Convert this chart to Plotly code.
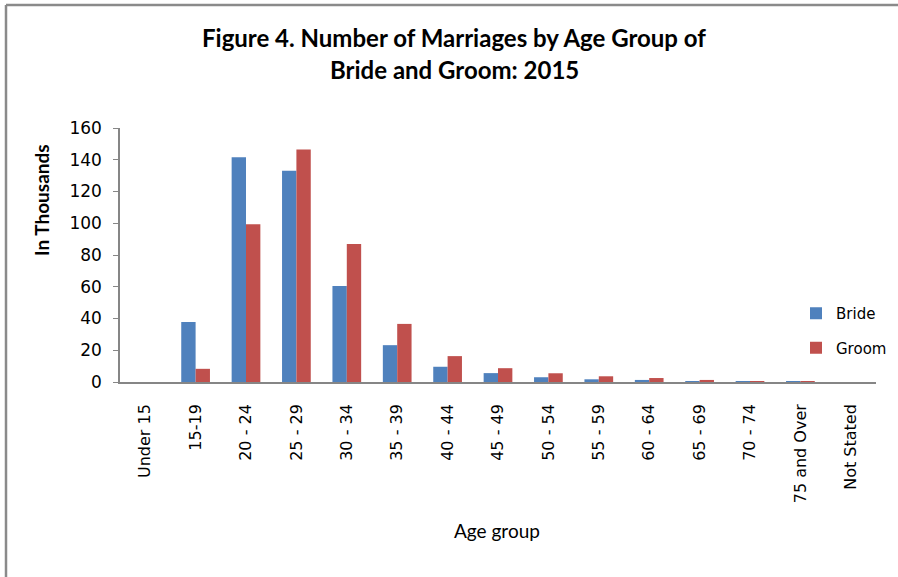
import plotly.graph_objects as go

categories = ["Under 15", "15-19", "20 - 24", "25 - 29", "30 - 34", "35 - 39", "40 - 44",
              "45 - 49", "50 - 54", "55 - 59", "60 - 64", "65 - 69", "70 - 74",
              "75 and Over", "Not Stated"]
bride = [0.0, 37.8, 141.5, 133.0, 60.5, 23.2, 9.6, 5.6, 3.0, 1.7, 1.3, 0.6, 0.2, 0.1, 0.0]
groom = [0.0, 8.3, 99.3, 146.5, 87.0, 36.6, 16.3, 8.7, 5.5, 3.6, 2.5, 1.3, 0.6, 0.5, 0.0]
y_ticks = [0, 20, 40, 60, 80, 100, 120, 140, 160]

W, H = 898, 577
L, R, T, B = 120, 22, 128, 195
pw, ph = W - L - R, H - T - B

def px(xp):
    return (xp - L) / pw

def py(yp):
    return (H - B - yp) / ph

fig = go.Figure()
fig.add_trace(go.Bar(x=categories, y=bride, name="Bride",
                     marker=dict(color="#4F81BD", line=dict(width=0)),
                     legendgroup="a"))
fig.add_trace(go.Bar(x=categories, y=groom, name="Groom",
                     marker=dict(color="#C0504D", line=dict(width=0)),
                     legendgroup="b"))

tick_font = dict(family="DejaVu Sans", size=16, color="#000000")

fig.update_layout(
    width=W, height=H,
    margin=dict(l=L, r=R, t=T, b=B, autoexpand=False),
    paper_bgcolor="white", plot_bgcolor="white",
    barmode="group", bargap=0.43, bargroupgap=0.0,
    showlegend=True,
    legend=dict(x=px(796), y=py(297), xanchor="left", yanchor="top",
                font=dict(family="DejaVu Sans", size=15, color="#000000"),
                traceorder="grouped", tracegroupgap=12, itemwidth=30,
                bgcolor="rgba(0,0,0,0)"),
    xaxis=dict(type="category", tickangle=-90, tickfont=tick_font,
               showline=True, linecolor="#868686", linewidth=1.5,
               ticks="", showgrid=False, ticklabelstandoff=14),
    yaxis=dict(range=[0, 160], tickvals=y_ticks, tickfont=dict(family="DejaVu Sans", size=17, color="#000000"),
               showline=True, linecolor="#868686", linewidth=1.5,
               ticks="outside", ticklen=5, tickcolor="#868686",
               showgrid=False, zeroline=False, ticklabelstandoff=8),
    font=dict(family="DejaVu Sans", color="#000000"),
)

title_font = dict(family="Lato", size=24, color="#000000", weight="bold")
fig.add_annotation(text="Figure 4. Number of Marriages by Age Group of", x=px(454), y=py(38),
                   xref="paper", yref="paper", showarrow=False, font=title_font,
                   xanchor="center", yanchor="middle")
fig.add_annotation(text="Bride and Groom: 2015", x=px(454), y=py(69),
                   xref="paper", yref="paper", showarrow=False, font=title_font,
                   xanchor="center", yanchor="middle")
fig.add_annotation(text="In Thousands", x=px(41), y=py(200), textangle=-90,
                   xref="paper", yref="paper", showarrow=False,
                   font=dict(family="Lato", size=19, color="#000000", weight="bold"),
                   xanchor="center", yanchor="middle")
fig.add_annotation(text="Age group", x=px(497), y=py(530),
                   xref="paper", yref="paper", showarrow=False,
                   font=dict(family="Lato", size=19, color="#000000"),
                   xanchor="center", yanchor="middle")

# outer frame (top and left edges)
fig.add_shape(type="line", xref="paper", yref="paper", x0=px(6), x1=px(W + 5), y0=py(5), y1=py(5),
              line=dict(color="#8a8a8a", width=2.5))
fig.add_shape(type="line", xref="paper", yref="paper", x0=px(6), x1=px(6), y0=py(5), y1=py(H + 5),
              line=dict(color="#8a8a8a", width=2.5))

fig.write_html("out.html", config={"displayModeBar": False},
               post_script="document.body.style.margin='0';document.body.style.overflow='hidden';")
